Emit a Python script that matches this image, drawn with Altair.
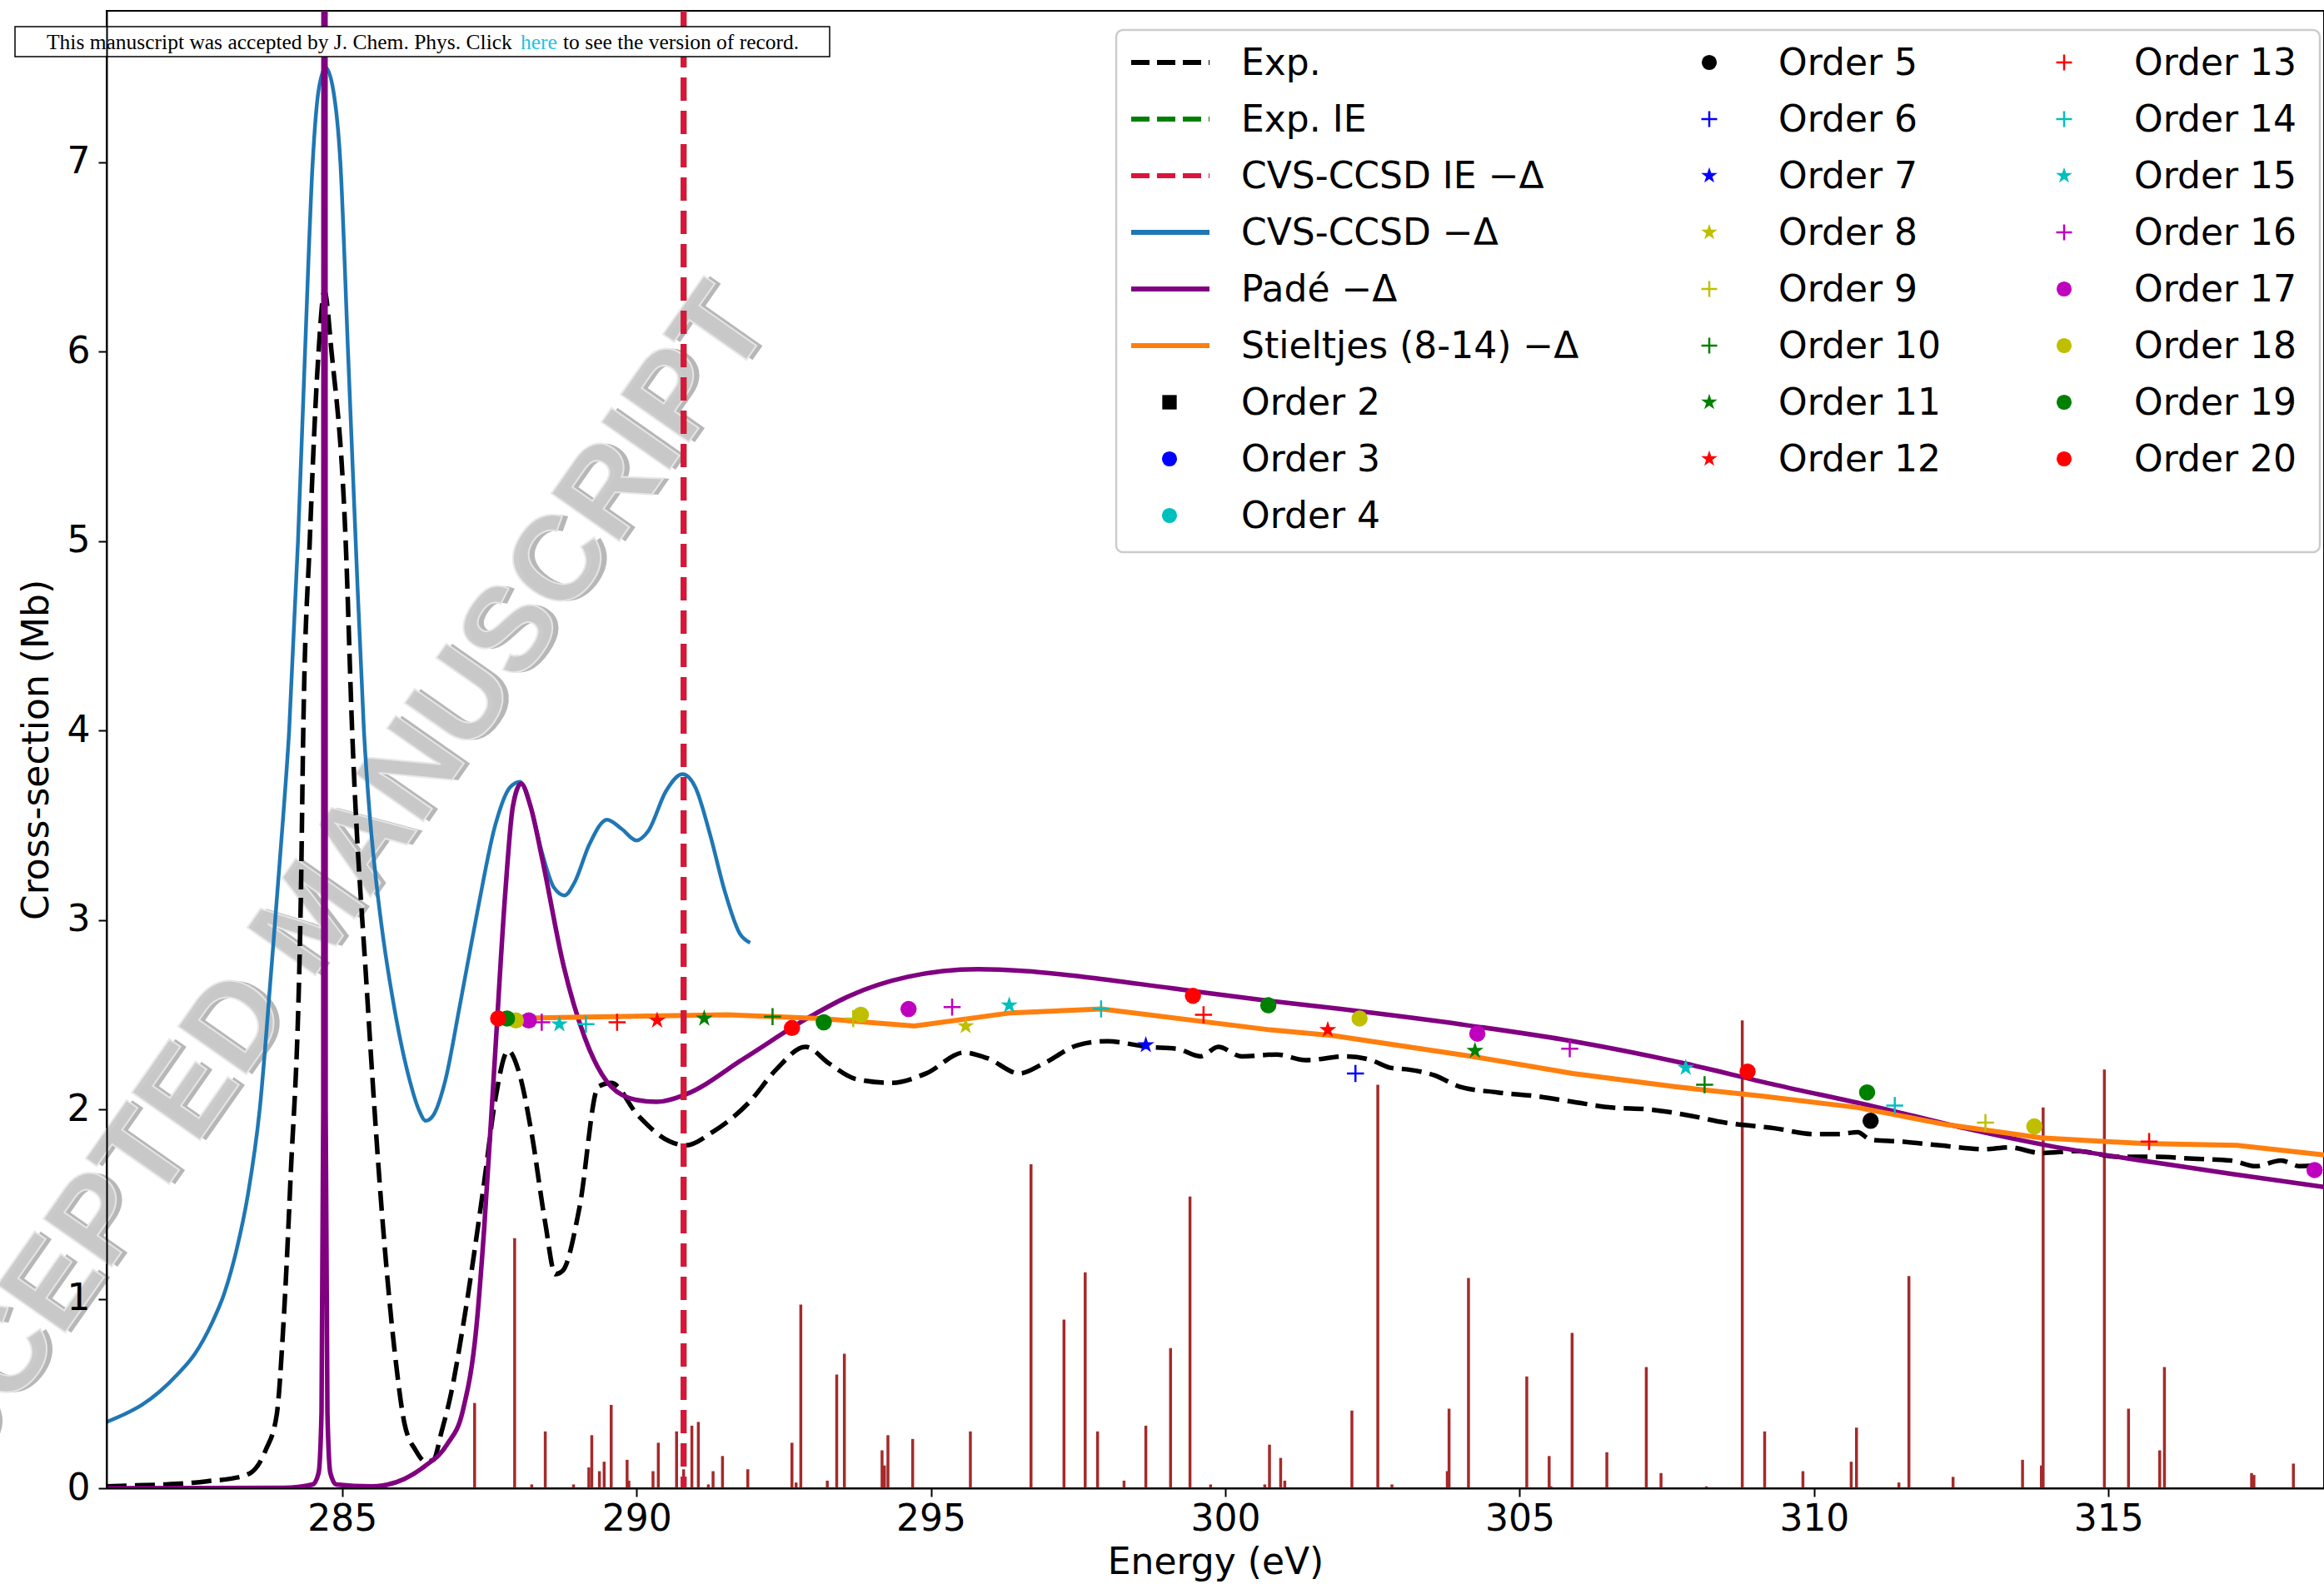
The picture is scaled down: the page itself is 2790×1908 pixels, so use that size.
import math
import altair as alt
import pandas as pd

# ---------------- data ----------------
exp_x = [281.0, 281.5, 282.0, 282.5, 282.8, 283.1, 283.44, 283.7, 283.89, 284.0, 284.12, 284.3, 284.34,
         284.45, 284.6, 284.7, 284.82, 285.06, 285.17, 285.42, 285.7, 285.9, 286.06, 286.25, 286.42, 286.55,
         286.69, 286.85, 287.05, 287.41, 287.6, 287.82, 288.0, 288.22, 288.45, 288.62, 288.75, 289.03, 289.35,
         289.57, 290.02, 290.57, 290.84, 291.29, 291.92, 292.37, 292.87, 293.28, 293.73, 294.32, 294.92, 295.56,
         295.96, 296.5, 296.9, 297.5, 297.99, 298.69, 299.18, 299.58, 299.88, 300.28, 300.87, 301.37, 302.05,
         302.48, 302.8, 303.12, 303.55, 303.98, 304.62, 305.27, 305.9, 306.55, 307.2, 307.84, 308.49, 309.34,
         309.99, 310.42, 310.74, 310.96, 311.49, 312.14, 312.89, 313.31, 313.85, 314.49, 315.14, 315.78, 316.43,
         317.08, 317.5, 317.93, 318.25, 318.66]
exp_y = [0.01, 0.015, 0.02, 0.03, 0.04, 0.05, 0.08, 0.2, 0.39, 0.85, 1.61, 3.14, 4.0,
         5.0, 6.0, 6.32, 6.0, 5.0, 4.0, 2.63, 1.36, 0.7, 0.34, 0.2, 0.14, 0.15,
         0.3, 0.5, 0.85, 1.61, 2.05, 2.31, 2.2, 1.87, 1.4, 1.13, 1.15, 1.48, 2.12,
         2.14, 1.97, 1.83, 1.81, 1.88, 2.04, 2.21, 2.33, 2.24, 2.16, 2.14, 2.19, 2.30,
         2.27, 2.19, 2.24, 2.34, 2.36, 2.33, 2.32, 2.28, 2.33, 2.28, 2.29, 2.26, 2.28,
         2.26, 2.22, 2.21, 2.18, 2.12, 2.09, 2.07, 2.04, 2.01, 2.0, 1.97, 1.93, 1.90,
         1.87, 1.87, 1.88, 1.84, 1.83, 1.81, 1.79, 1.80, 1.77, 1.78, 1.75, 1.75, 1.74,
         1.73, 1.70, 1.73, 1.70, 1.71]

cvs_x = [281.0, 281.3, 281.6, 281.9, 282.2, 282.5, 282.8, 283.0, 283.2, 283.4, 283.6, 283.8, 284.0,
         284.1, 284.25, 284.37, 284.5, 284.6, 284.72, 284.85, 284.97, 285.1, 285.23, 285.37, 285.47, 285.58,
         285.7, 285.85, 286.0, 286.15, 286.3, 286.42, 286.55, 286.75, 287.0, 287.3, 287.6, 287.85, 288.02,
         288.2, 288.4, 288.6, 288.78, 288.95, 289.2, 289.5, 289.75, 290.0, 290.2, 290.5, 290.78, 291.0,
         291.25, 291.5, 291.75, 291.93]
cvs_y = [0.35, 0.39, 0.44, 0.51, 0.60, 0.71, 0.88, 1.03, 1.25, 1.55, 2.0, 2.75, 3.55,
         4.0, 5.0, 6.0, 7.0, 7.38, 7.5, 7.38, 7.0, 6.0, 5.0, 4.0, 3.55, 3.2,
         2.9, 2.6, 2.35, 2.15, 2.0, 1.94, 1.97, 2.15, 2.55, 3.05, 3.5, 3.7, 3.73,
         3.6, 3.35, 3.17, 3.13, 3.2, 3.4, 3.53, 3.48, 3.42, 3.47, 3.68, 3.77, 3.7,
         3.45, 3.15, 2.93, 2.88]

pade_x = [281.0, 284.0, 284.5, 284.6, 284.65, 284.68, 284.7, 284.72, 284.75, 284.8, 284.9, 285.5, 286.06,
          286.42, 286.78, 287.05, 287.28, 287.41, 287.59, 287.77, 287.9, 288.04, 288.2, 288.4, 288.76, 289.12,
          289.57, 290.0, 290.34, 290.84, 291.83, 292.95, 293.62, 294.61, 295.8, 296.6, 297.59, 299.08, 300.57,
          301.96, 303.98, 305.9, 307.84, 309.34, 310.96, 312.57, 313.96, 315.78, 317.08, 318.66]
pade_y = [0.0, 0.002, 0.02, 0.08, 0.4, 2.0, 40.0, 2.0, 0.4, 0.08, 0.02, 0.01, 0.05,
          0.12, 0.23, 0.41, 0.85, 1.36, 2.25, 3.14, 3.6, 3.72, 3.6, 3.32, 2.76, 2.38,
          2.12, 2.05, 2.04, 2.08, 2.27, 2.49, 2.60, 2.70, 2.74, 2.73, 2.70, 2.64, 2.58,
          2.53, 2.45, 2.36, 2.24, 2.13, 2.02, 1.90, 1.81, 1.72, 1.66, 1.59]

stj_x = [287.62, 291.54, 293.13, 294.72, 296.36, 297.9, 300.76, 301.83, 304.19, 305.9, 307.63, 309.13,
         310.74, 312.24, 313.85, 315.57, 317.18, 318.66]
stj_y = [2.48, 2.50, 2.48, 2.44, 2.51, 2.53, 2.42, 2.39, 2.28, 2.19, 2.12, 2.07,
         2.01, 1.92, 1.85, 1.82, 1.81, 1.76]

stick_x = [287.25, 287.93, 288.22, 288.45, 288.93, 289.19, 289.24, 289.37, 289.45, 289.57, 289.84, 289.87,
           290.28, 290.37, 290.68, 290.80, 290.94, 291.05, 291.22, 291.30, 291.46, 291.89, 292.64, 292.71,
           292.79, 293.24, 293.40, 293.53, 294.17, 294.21, 294.27, 294.69, 295.67, 296.70, 297.26, 297.62,
           297.83, 298.28, 298.65, 299.07, 299.40, 299.75, 300.67, 300.75, 300.94, 301.01, 302.15, 302.59,
           302.83, 303.77, 303.80, 304.13, 305.12, 305.50, 305.53, 305.89, 306.48, 307.15, 307.40, 308.17,
           308.78, 309.16, 309.81, 310.63, 310.72, 311.44, 311.61, 312.36, 313.54, 313.86, 313.89, 314.93,
           315.34, 315.87, 315.95, 317.43, 317.47, 318.14]
stick_h = [0.45, 1.32, 0.02, 0.30, 0.02, 0.11, 0.28, 0.09, 0.14, 0.44, 0.15, 0.04,
           0.09, 0.24, 0.30, 0.10, 0.33, 0.35, 0.02, 0.09, 0.17, 0.10, 0.24, 0.03,
           0.97, 0.04, 0.60, 0.71, 0.20, 0.12, 0.28, 0.26, 0.30, 1.71, 0.89, 1.14,
           0.30, 0.04, 0.33, 0.74, 1.54, 0.02, 0.02, 0.23, 0.16, 0.04, 0.41, 2.13,
           0.02, 0.09, 0.42, 1.11, 0.59, 0.17, 0.01, 0.82, 0.19, 0.64, 0.08, 0.01,
           2.47, 0.30, 0.09, 0.14, 0.32, 0.03, 1.12, 0.06, 0.15, 0.12, 2.01, 2.21,
           0.42, 0.20, 0.64, 0.08, 0.07, 0.13]

ie_exp = [290.8]
ie_cvs = [290.8]

pts_order = [5, 6, 7, 8, 9, 9, 10, 10, 11, 11, 12, 12, 13, 13, 13, 14, 14, 14, 15, 15, 15,
             16, 16, 16, 17, 17, 17, 17, 18, 18, 18, 18, 19, 19, 19, 19, 20, 20, 20, 20]
pts_x = [310.96, 302.21, 298.65, 295.59, 293.68, 312.91, 292.31, 308.14, 291.15, 304.24, 290.35, 301.74,
         289.67, 299.63, 315.69, 289.14, 297.89, 311.37, 288.69, 296.33, 307.82,
         288.39, 295.36, 305.85, 288.17, 294.62, 304.28, 318.5, 287.95, 293.81, 302.28, 313.74,
         287.8, 293.18, 300.73, 310.9, 287.65, 292.64, 299.45, 308.87]
pts_y = [1.94, 2.19, 2.34, 2.44, 2.48, 1.93, 2.49, 2.13, 2.48, 2.31, 2.47, 2.42,
         2.46, 2.50, 1.83, 2.45, 2.53, 2.02, 2.45, 2.55, 2.22,
         2.46, 2.54, 2.32, 2.47, 2.53, 2.40, 1.68, 2.47, 2.50, 2.48, 1.91,
         2.48, 2.46, 2.55, 2.09, 2.48, 2.43, 2.60, 2.20]

mpl = {"b": "#0000ff", "g": "#008000", "r": "#ff0000", "c": "#00bfbf",
       "m": "#bf00bf", "y": "#bfbf00", "k": "#000000"}
order_shape = {2: "square", 3: "circle", 4: "circle", 5: "circle", 6: "plus", 7: "star", 8: "star",
               9: "plus", 10: "plus", 11: "star", 12: "star", 13: "plus", 14: "plus", 15: "star",
               16: "plus", 17: "circle", 18: "circle", 19: "circle", 20: "circle"}
order_color = {2: "k", 3: "b", 4: "c", 5: "k", 6: "b", 7: "b", 8: "y", 9: "y", 10: "g", 11: "g",
               12: "r", 13: "r", 14: "c", 15: "c", 16: "m", 17: "m", 18: "y", 19: "g", 20: "r"}

line_labels = ["Exp.", "Exp. IE", "CVS-CCSD IE \u2212\u0394", "CVS-CCSD \u2212\u0394",
               "Pad\u00e9 \u2212\u0394", "Stieltjes (8-14) \u2212\u0394"]
line_colors = ["#000000", "#008000", "#dc143c", "#1f77b4", "#800080", "#ff7f0e"]
line_dashed = [True, True, True, False, False, False]

banner_parts = ["This manuscript was accepted by J. Chem. Phys. Click", "here",
                "to see the version of record."]
banner_colors = ["#000000", "#1fc3e3", "#000000"]

# ---------------- layout / style constants ----------------
X_MIN, X_MAX = 281.0, 318.66
Y_MAX = 7.8
W, H = 2662, 1774
FONT = "DejaVu Sans"
FS = 44
PLUS = "M-1,0L1,0M0,-1L0,1"
_pts = []
for k in range(10):
    a = math.radians(-90 + 36 * k)
    r = 1.0 if k % 2 == 0 else 0.382
    _pts.append(f"{r * math.cos(a):.4f},{r * math.sin(a):.4f}")
STAR = "M" + "L".join(_pts) + "Z"
SHAPE = {"circle": "circle", "square": "square", "star": STAR, "plus": PLUS}
SIZE = {"circle": 380, "square": 300, "star": 470, "plus": 420}
LSIZE = {"circle": 330, "square": 300, "star": 420, "plus": 360}

LEG_ROW0, LEG_DY = 62, 68
LEG_MARK_X = [1276, 1924, 2350]
LEG_TEXT_X = [1362, 2007, 2434]
LEG_LINE_X = (1230, 1324)
BANNER_X = [-72, 497, 548]
WM_POS = (246, 1088)
WM_SIZE = 145

xs = alt.Scale(domain=[X_MIN, X_MAX], nice=False, zero=False)
ys = alt.Scale(domain=[0, Y_MAX], nice=False, zero=False)
X_ENC = alt.X("e:Q", scale=xs, axis=alt.Axis(values=list(range(285, 316, 5)), format="d",
                                             title="Energy (eV)", zindex=2))
Y_ENC = alt.Y("v:Q", scale=ys, axis=alt.Axis(values=list(range(0, 8)), format="d",
                                             title="Cross-section (Mb)", zindex=2))


def PX(f):
    return alt.X(f"{f}:Q", scale=None, axis=None)


def PY(f):
    return alt.Y(f"{f}:Q", scale=None, axis=None)


exp_df = pd.DataFrame({"e": exp_x, "v": exp_y})
cvs_df = pd.DataFrame({"e": cvs_x, "v": cvs_y})
pade_df = pd.DataFrame({"e": pade_x, "v": pade_y})
stj_df = pd.DataFrame({"e": stj_x, "v": stj_y})
stick_df = pd.DataFrame({"e": stick_x, "v": [0.0] * len(stick_x), "h": stick_h})
pts_df = pd.DataFrame({"e": pts_x, "v": pts_y, "order": pts_order})
pts_df["shape"] = pts_df["order"].map(order_shape)
pts_df["col"] = pts_df["order"].map(lambda o: mpl[order_color[o]])

layers = []

# sticks (first layer carries the axes)
layers.append(alt.Chart(stick_df).mark_rule(color="#a52a2a", strokeWidth=3.5, clip=True)
              .encode(x=X_ENC, y=Y_ENC, y2="h:Q"))

# watermark
wm = pd.DataFrame({"px": [WM_POS[0]], "py": [WM_POS[1]], "t": ["ACCEPTED MANUSCRIPT"]})
layers.append(alt.Chart(wm).mark_text(font="Liberation Sans", fontWeight="bold", fontSize=WM_SIZE,
                                      angle=305, align="center", baseline="middle", fill="#7d7d7d",
                                      opacity=0.55, dx=4, dy=6)
              .encode(x=PX("px"), y=PY("py"), text="t:N"))
layers.append(alt.Chart(wm).mark_text(font="Liberation Sans", fontWeight="bold", fontSize=WM_SIZE,
                                      angle=305, align="center", baseline="middle", fill="#c9c9c9",
                                      stroke="#e8e8e8", strokeWidth=2, opacity=0.95)
              .encode(x=PX("px"), y=PY("py"), text="t:N"))

# curves
layers.append(alt.Chart(exp_df).mark_line(color="#000000", strokeWidth=5.5, strokeDash=[24, 10],
                                          interpolate="monotone", clip=True).encode(x=X_ENC, y=Y_ENC))
layers.append(alt.Chart(cvs_df).mark_line(color="#1f77b4", strokeWidth=4.5, interpolate="monotone",
                                          clip=True).encode(x=X_ENC, y=Y_ENC))
layers.append(alt.Chart(pade_df).mark_line(color="#800080", strokeWidth=5.5, interpolate="monotone",
                                           clip=True).encode(x=X_ENC, y=Y_ENC))
layers.append(alt.Chart(stj_df).mark_line(color="#ff7f0e", strokeWidth=6, interpolate="linear",
                                          clip=True).encode(x=X_ENC, y=Y_ENC))

# ionisation energies
layers.append(alt.Chart(pd.DataFrame({"e": ie_exp})).mark_rule(color="#008000", strokeWidth=7,
                                                              strokeDash=[28, 12]).encode(x=X_ENC))
layers.append(alt.Chart(pd.DataFrame({"e": ie_cvs})).mark_rule(color="#dc143c", strokeWidth=7,
                                                              strokeDash=[28, 12]).encode(x=X_ENC))

# Stieltjes points by order
for shp in ["circle", "star", "plus", "square"]:
    sub = pts_df[pts_df["shape"] == shp]
    if len(sub) == 0:
        continue
    filled = shp != "plus"
    layers.append(alt.Chart(sub).mark_point(shape=SHAPE[shp], filled=filled, size=SIZE[shp], opacity=1,
                                            strokeWidth=2.5, clip=True)
                  .encode(x=X_ENC, y=Y_ENC, color=alt.Color("col:N", scale=None)))

# ---------------- legend ----------------
layers.append(alt.Chart(pd.DataFrame({"a": [1]})).mark_rect(fill="white", fillOpacity=0.85,
                                                              stroke="#cccccc", strokeWidth=2.5,
                                                              cornerRadius=8)
              .encode(x=alt.value(1212), x2=alt.value(2657), y=alt.value(23), y2=alt.value(650)))
leg_lines = pd.DataFrame({"x1": [LEG_LINE_X[0]] * 6, "x2": [LEG_LINE_X[1]] * 6,
                          "py": [LEG_ROW0 + LEG_DY * i for i in range(6)],
                          "col": line_colors, "dashed": line_dashed})
layers.append(alt.Chart(leg_lines[leg_lines["dashed"]]).mark_rule(strokeWidth=6, strokeDash=[22, 9])
              .encode(x=PX("x1"), x2="x2:Q", y=PY("py"), color=alt.Color("col:N", scale=None)))
layers.append(alt.Chart(leg_lines[~leg_lines["dashed"]]).mark_rule(strokeWidth=6)
              .encode(x=PX("x1"), x2="x2:Q", y=PY("py"), color=alt.Color("col:N", scale=None)))

leg_orders = list(range(2, 21))
leg_pos = []
for o in leg_orders:
    if o <= 4:
        c, r = 0, 6 + (o - 2)
    elif o <= 12:
        c, r = 1, o - 5
    else:
        c, r = 2, o - 13
    leg_pos.append((c, r))
leg_mk = pd.DataFrame({"order": leg_orders,
                       "px": [LEG_MARK_X[c] for c, r in leg_pos],
                       "tx": [LEG_TEXT_X[c] for c, r in leg_pos],
                       "py": [LEG_ROW0 + LEG_DY * r for c, r in leg_pos]})
leg_mk["shape"] = leg_mk["order"].map(order_shape)
leg_mk["col"] = leg_mk["order"].map(lambda o: mpl[order_color[o]])
leg_mk["label"] = leg_mk["order"].map(lambda o: f"Order {o}")
for shp in ["circle", "star", "plus", "square"]:
    sub = leg_mk[leg_mk["shape"] == shp]
    layers.append(alt.Chart(sub).mark_point(shape=SHAPE[shp], filled=(shp != "plus"), size=LSIZE[shp],
                                            opacity=1, strokeWidth=2.5)
                  .encode(x=PX("px"), y=PY("py"), color=alt.Color("col:N", scale=None)))

leg_text = pd.DataFrame({"tx": [LEG_TEXT_X[0]] * 6 + list(leg_mk["tx"]),
                         "py": [LEG_ROW0 + LEG_DY * i for i in range(6)] + list(leg_mk["py"]),
                         "label": line_labels + list(leg_mk["label"])})
layers.append(alt.Chart(leg_text).mark_text(font=FONT, fontSize=FS, align="left", baseline="middle",
                                            color="black", dy=2)
              .encode(x=PX("tx"), y=PY("py"), text="label:N"))

# ---------------- banner ----------------
layers.append(alt.Chart(pd.DataFrame({"a": [1]})).mark_rect(fill="white", stroke="black", strokeWidth=1.5)
              .encode(x=alt.value(-110), x2=alt.value(868), y=alt.value(19), y2=alt.value(55)))
banner = pd.DataFrame({"px": BANNER_X, "t": banner_parts, "c": banner_colors})
layers.append(alt.Chart(banner).mark_text(font="Liberation Serif", fontSize=25.5, align="left",
                                          baseline="alphabetic")
              .encode(x=PX("px"), y=alt.value(46), text="t:N", color=alt.Color("c:N", scale=None)))

chart = alt.layer(*layers).properties(
    width=W, height=H,
    autosize=alt.AutoSizeParams(type="none"),
    padding={"left": 128, "top": 13, "right": 0, "bottom": 121},
).configure_view(stroke="black", strokeWidth=2).configure_axis(
    labelFont=FONT, titleFont=FONT, labelFontSize=FS, titleFontSize=FS, titleFontWeight="normal",
    labelColor="black", titleColor="black", domainColor="black", tickColor="black",
    domainWidth=2, tickWidth=2, tickSize=10, grid=False
).configure_axisX(labelPadding=5, titlePadding=8).configure_axisY(labelPadding=10, titlePadding=14)

chart.save("out.html", embed_options={"renderer": "svg", "actions": False})
